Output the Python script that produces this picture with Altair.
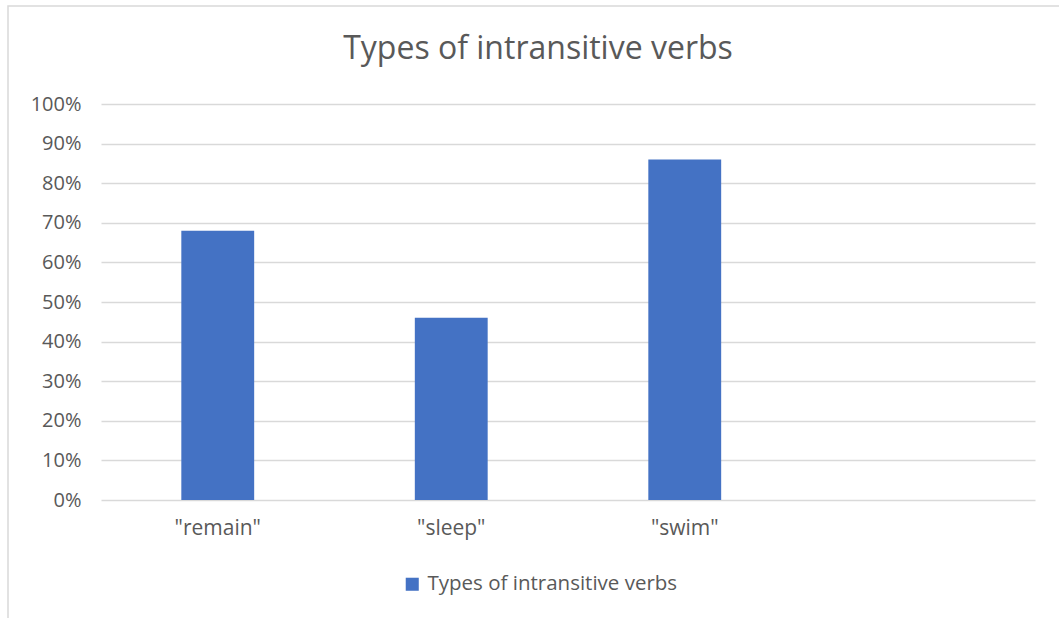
import altair as alt
import pandas as pd

categories = ['"remain"', '"sleep"', '"swim"']
values = [0.68, 0.46, 0.86]
series_name = "Types of intransitive verbs"
chart_title = "Types of intransitive verbs"
domain_x = categories + [" "]
y_ticks = [0.0, 0.1, 0.2, 0.3, 0.4, 0.5, 0.6, 0.7, 0.8, 0.9, 1.0]

df = pd.DataFrame({"verb": categories, "share": values, "series": [series_name] * 3})

FONT = "Open Sans"
GRAY = "#595959"

border = alt.Chart(pd.DataFrame({"a": [0]})).mark_rect(
    fill="transparent", stroke="#d9d9d9", strokeWidth=1.5
).encode(
    x=alt.value(-93), x2=alt.value(1100), y=alt.value(-98), y2=alt.value(700)
)

title = alt.Chart(pd.DataFrame({"t": [chart_title]})).mark_text(
    font=FONT, fontSize=32, color=GRAY, align="center", baseline="alphabetic"
).encode(text="t:N", x=alt.value(437), y=alt.value(-45))

bars = alt.Chart(df).mark_bar(color="#4472c4").encode(
    x=alt.X("verb:N", sort=domain_x,
            scale=alt.Scale(domain=domain_x, paddingInner=0.688, paddingOuter=0.344),
            axis=alt.Axis(title=None, labelAngle=0, ticks=False, domain=False,
                          labelFontSize=21, labelColor=GRAY, labelFont=FONT,
                          labelPadding=17, grid=False)),
    y=alt.Y("share:Q", scale=alt.Scale(domain=[0, 1], nice=False),
            axis=alt.Axis(title=None, format=".0%", values=y_ticks, labelOverlap=False,
                          ticks=False, domain=False, labelFontSize=20, labelColor=GRAY,
                          labelFont=FONT, labelPadding=20, gridColor="#d9d9d9", gridWidth=1.3)),
    fill=alt.Fill("series:N", scale=alt.Scale(range=["#4472c4"]),
                  legend=alt.Legend(title=None, orient="none", legendX=301, legendY=470,
                                    symbolType="square", symbolSize=170, symbolStrokeWidth=0,
                                    labelFontSize=20.5, labelColor=GRAY, labelFont=FONT,
                                    labelLimit=500, labelOffset=5)),
)

chart = alt.layer(border, title, bars).properties(
    width=934, height=396,
    autosize=alt.AutoSizeParams(type="none"),
    padding={"left": 101, "top": 104, "right": 24, "bottom": 118},
    background="white",
).configure_view(strokeWidth=0, stroke="transparent")

chart.save("out.html", embed_options={"renderer": "svg", "actions": False})
